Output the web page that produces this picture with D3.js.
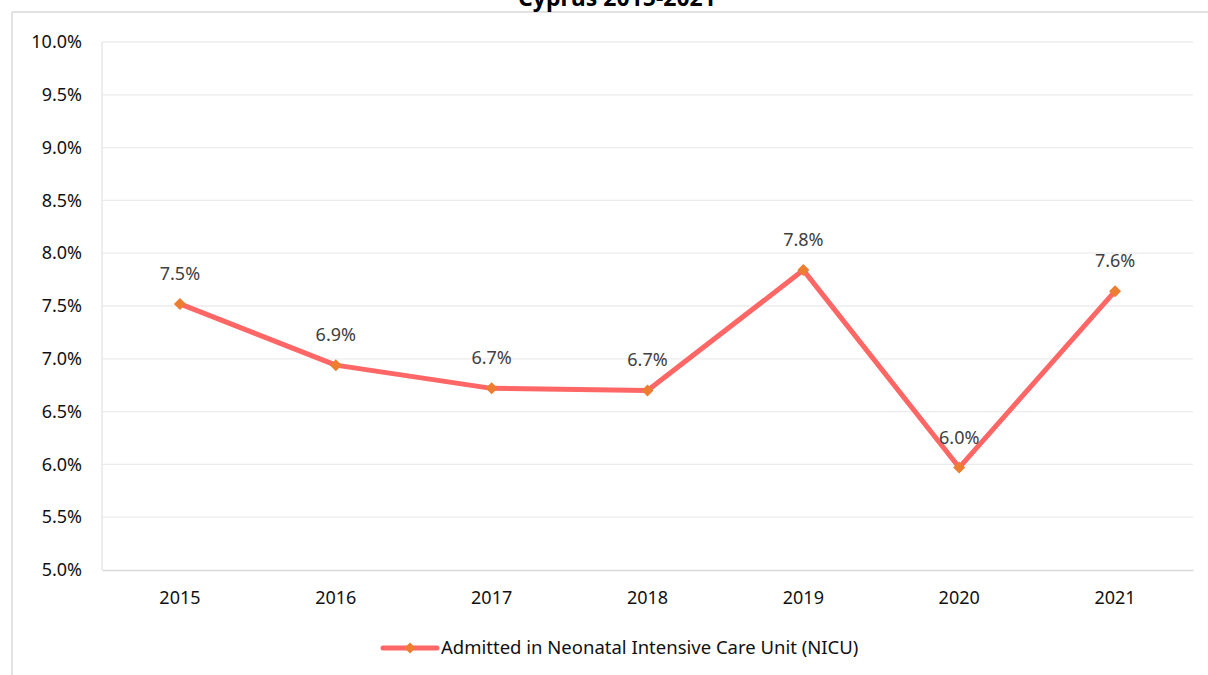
<!DOCTYPE html>
<html lang="en">
<head>
<meta charset="utf-8">
<title>Cyprus 2015-2021</title>
<script src="https://cdn.jsdelivr.net/npm/d3@7"></script>
<style>
  body { margin: 0; background: #fff; }
  text { font-family: "Noto Sans", "Open Sans", sans-serif; }
</style>
</head>
<body>
<script>
// data
var years = ["2015", "2016", "2017", "2018", "2019", "2020", "2021"];
var nicuValues = [7.52, 6.94, 6.72, 6.70, 7.84, 5.97, 7.64];
var yTicks = [5.0, 5.5, 6.0, 6.5, 7.0, 7.5, 8.0, 8.5, 9.0, 9.5, 10.0];
var seriesName = "Admitted in Neonatal Intensive Care Unit (NICU)";
var title = "Cyprus 2015-2021";

var w = 1208, h = 675;
var plot = {left: 102, right: 1193, top: 42, bottom: 570};

var svg = d3.select("body").append("svg").attr("width", w).attr("height", h);

// outer chart frame (only top and left edges are in view)
svg.append("line").attr("x1", 12).attr("x2", w).attr("y1", 12).attr("y2", 12)
  .attr("stroke", "#d9d9d9").attr("stroke-width", 1.5);
svg.append("line").attr("x1", 12).attr("x2", 12).attr("y1", 12).attr("y2", h)
  .attr("stroke", "#d9d9d9").attr("stroke-width", 1.5);

// title, mostly above the top edge as in the original
svg.append("text")
  .attr("x", 617).attr("y", 6)
  .attr("text-anchor", "middle")
  .style("font-size", "23px").style("font-weight", "bold")
  .attr("fill", "#000")
  .text(title);

var x = d3.scaleBand().domain(years).range([plot.left, plot.right]);
var y = d3.scaleLinear().domain([5, 10]).range([plot.bottom, plot.top]);

// gridlines
svg.append("g").selectAll("line").data(yTicks.slice(1)).enter().append("line")
  .attr("x1", plot.left).attr("x2", plot.right)
  .attr("y1", function(d){ return y(d); }).attr("y2", function(d){ return y(d); })
  .attr("stroke", "#ececec").attr("stroke-width", 1.3);

// left axis line
svg.append("line").attr("x1", plot.left).attr("x2", plot.left)
  .attr("y1", plot.top).attr("y2", plot.bottom)
  .attr("stroke", "#e3e3e3").attr("stroke-width", 1.3);

// y axis
var yAxis = d3.axisLeft(y).tickValues(yTicks).tickSize(0).tickPadding(20)
  .tickFormat(function(d){ return d.toFixed(1) + "%"; });
var gy = svg.append("g").attr("transform", "translate(" + plot.left + ",0)").call(yAxis);
gy.select(".domain").remove();
gy.selectAll("text").style("font-size", "18px").attr("fill", "#111")
  .style("font-family", "'Noto Sans', sans-serif");

// x axis
var xAxis = d3.axisBottom(x).tickSize(0).tickPadding(21);
var gx = svg.append("g").attr("transform", "translate(0," + plot.bottom + ")").call(xAxis);
gx.select(".domain").attr("stroke", "#d9d9d9").attr("stroke-width", 1.5);
gx.selectAll("text").style("font-size", "18px").attr("fill", "#111")
  .style("font-family", "'Noto Sans', sans-serif");

var cx = function(d, i){ return x(years[i]) + x.bandwidth() / 2; };

// line
var line = d3.line().x(cx).y(function(d){ return y(d); });
svg.append("path").datum(nicuValues)
  .attr("d", line)
  .attr("fill", "none")
  .attr("stroke", "#ff6666")
  .attr("stroke-width", 5)
  .attr("stroke-linejoin", "round");

// markers
svg.append("g").selectAll("path").data(nicuValues).enter().append("path")
  .attr("d", d3.symbol().type(d3.symbolSquare).size(72))
  .attr("transform", function(d, i){ return "translate(" + cx(d, i) + "," + y(d) + ") rotate(45)"; })
  .attr("fill", "#ed7d31");

// data labels
svg.append("g").selectAll("text").data(nicuValues).enter().append("text")
  .attr("x", cx)
  .attr("y", function(d){ return y(d) - 24; })
  .attr("text-anchor", "middle")
  .style("font-size", "18px")
  .attr("fill", "#404040")
  .text(function(d){ return d.toFixed(1) + "%"; });

// legend
var lg = svg.append("g").attr("transform", "translate(383,648)");
lg.append("line").attr("x1", 0).attr("x2", 54).attr("y1", 0).attr("y2", 0)
  .attr("stroke", "#ff6666").attr("stroke-width", 5).attr("stroke-linecap", "round");
lg.append("path").attr("d", d3.symbol().type(d3.symbolSquare).size(60))
  .attr("transform", "translate(27,0) rotate(45)").attr("fill", "#ed7d31");
lg.append("text").attr("x", 58).attr("y", 0).attr("dy", "0.35em")
  .style("font-size", "18.5px").attr("fill", "#111")
  .text(seriesName);
</script>
</body>
</html>
